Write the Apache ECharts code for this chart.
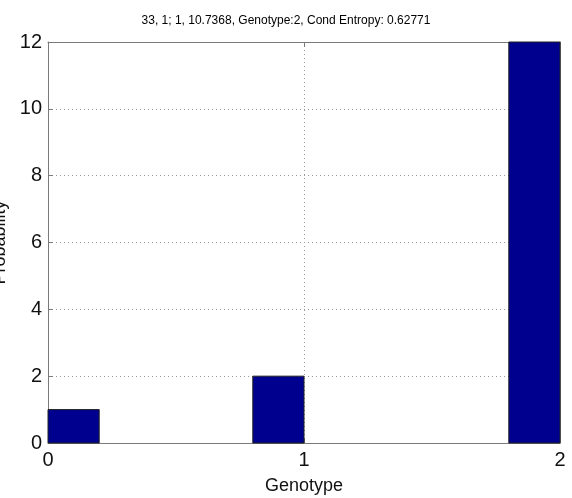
<!DOCTYPE html>
<html><head><meta charset="utf-8">
<script src="https://cdn.jsdelivr.net/npm/echarts@6/dist/echarts.min.js"></script>
<style>html,body{margin:0;padding:0;background:#fff}#c{width:572px;height:498px}</style>
</head><body><div id="c"></div>
<script>
const binStart = [0, 0.8, 1.8];
const binEnd = [0.2, 1.0, 2.0];
const values = [1, 2, 12];
const xTicks = [0, 1, 2];
const yTicks = [0, 2, 4, 6, 8, 10, 12];
const titleText = '33, 1; 1, 10.7368, Genotype:2, Cond Entropy: 0.62771';

const data = values.map((v, i) => [binStart[i], binEnd[i], v]);
const font = 'Liberation Sans, Arial, sans-serif';
const lineCol = '#7a7a7a';
const chart = echarts.init(document.getElementById('c'), null, {renderer: 'canvas'});
chart.setOption({
  animation: false,
  backgroundColor: '#fff',
  title: {text: titleText, left: 'center', top: 10, textStyle: {fontFamily: font, fontSize: 12, fontWeight: 'normal', color: '#000'}},
  grid: {left: 48, right: 12, top: 42, bottom: 55, containLabel: false, outerBoundsMode: 'none'},
  xAxis: [{
    type: 'value', min: 0, max: 2, interval: 1, position: 'bottom',
    name: 'Genotype', nameLocation: 'middle', nameGap: 34,
    nameTextStyle: {fontFamily: font, fontSize: 18, color: '#111'},
    axisLine: {show: true, onZero: false, lineStyle: {color: lineCol}},
    axisTick: {show: true, inside: true, length: 5, lineStyle: {color: lineCol}},
    axisLabel: {fontFamily: font, fontSize: 20, color: '#111', margin: 7, formatter: v => xTicks.includes(v) ? String(v) : ''},
    splitLine: {show: true, lineStyle: {color: '#999', type: [1, 3]}}
  }, {
    type: 'value', min: 0, max: 2, interval: 1, position: 'top',
    axisLine: {show: true, onZero: false, lineStyle: {color: lineCol}},
    axisTick: {show: true, inside: true, length: 5, lineStyle: {color: lineCol}},
    axisLabel: {show: false}, splitLine: {show: false}
  }],
  yAxis: [{
    type: 'value', min: 0, max: 12, interval: 2, position: 'left',
    name: 'Probability', nameLocation: 'middle', nameGap: 36,
    nameTextStyle: {fontFamily: font, fontSize: 18, color: '#111'},
    axisLine: {show: true, onZero: false, lineStyle: {color: lineCol}},
    axisTick: {show: true, inside: true, length: 5, lineStyle: {color: lineCol}},
    axisLabel: {fontFamily: font, fontSize: 20, color: '#111', margin: 6, formatter: v => yTicks.includes(v) ? String(v) : ''},
    splitLine: {show: true, lineStyle: {color: '#999', type: [1, 3]}}
  }, {
    type: 'value', min: 0, max: 12, interval: 2, position: 'right',
    axisLine: {show: true, onZero: false, lineStyle: {color: lineCol}},
    axisTick: {show: true, inside: true, length: 5, lineStyle: {color: lineCol}},
    axisLabel: {show: false}, splitLine: {show: false}
  }],
  series: [{
    type: 'custom',
    xAxisIndex: 0, yAxisIndex: 0,
    data: data,
    encode: {x: [0, 1], y: 2},
    renderItem: function (params, api) {
      const p0 = api.coord([api.value(0), api.value(2)]);
      const p1 = api.coord([api.value(1), 0]);
      return {
        type: 'rect',
        shape: {x: p0[0], y: p0[1], width: p1[0] - p0[0], height: p1[1] - p0[1]},
        style: {fill: '#00008f', stroke: '#222', lineWidth: 1}
      };
    }
  }]
});
</script></body></html>
